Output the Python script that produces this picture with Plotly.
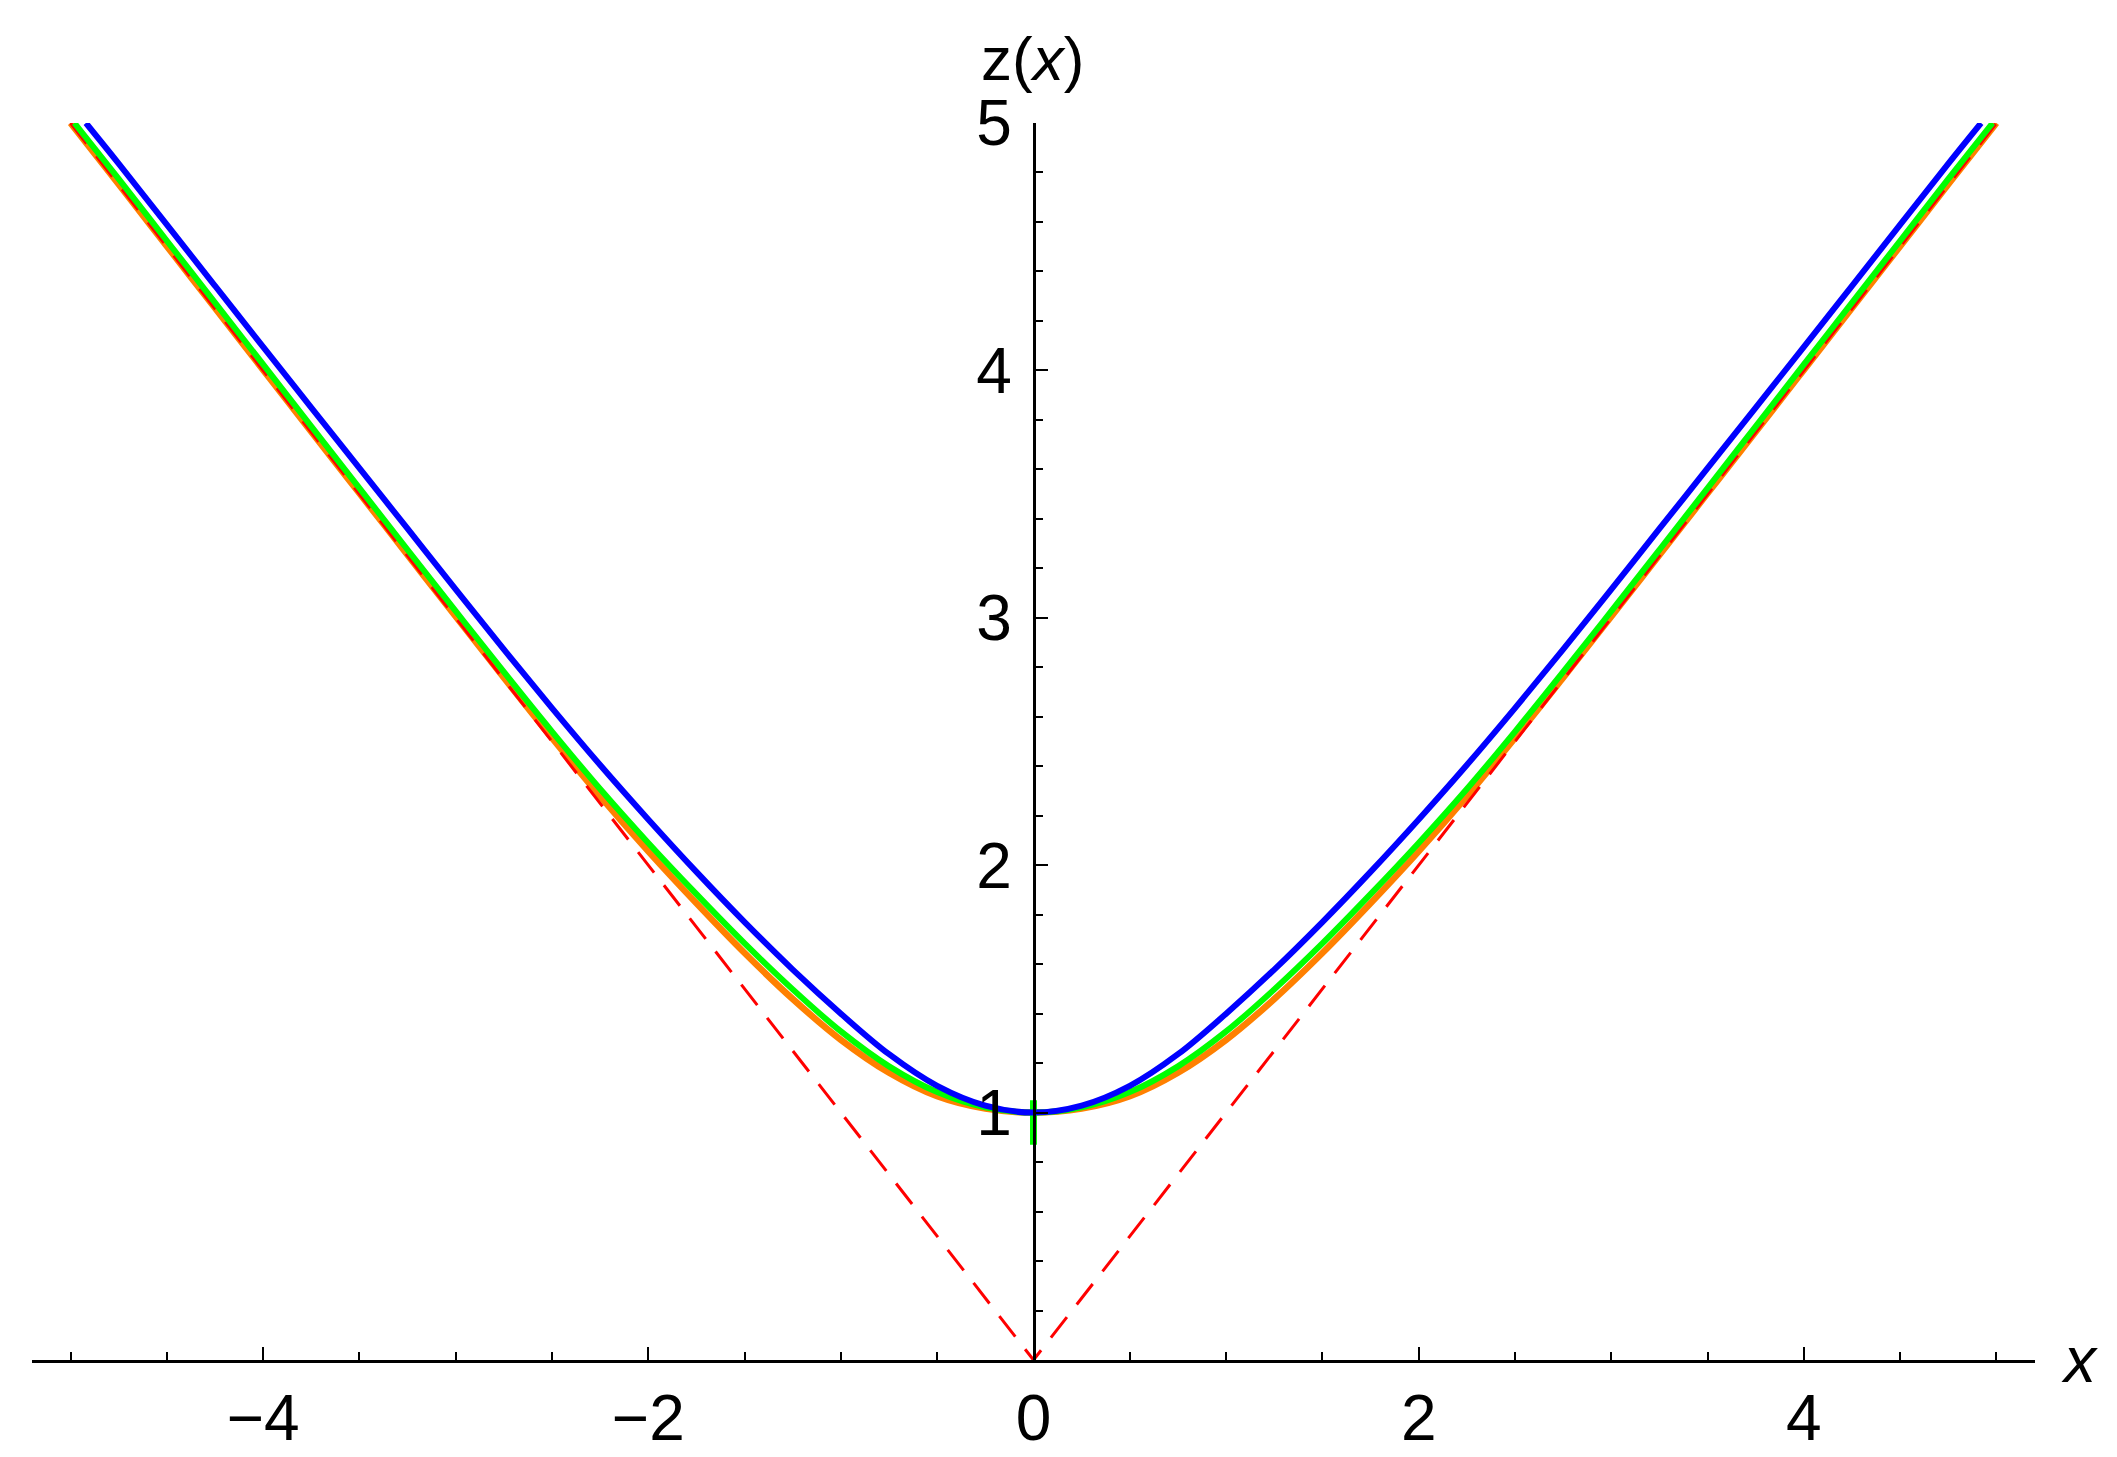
import plotly.graph_objects as go

# values (right half, curves are symmetric about x = 0)
x_grid = [0, 0.25, 0.5, 0.75, 1, 1.25, 1.5, 1.75, 2, 2.25, 2.5, 2.75,
          3, 3.25, 3.5, 3.75, 4, 4.25, 4.5, 4.75]

x_blue = x_grid + [4.92]
z_blue = [1, 1.028, 1.108, 1.236, 1.400, 1.578, 1.770, 1.973, 2.185, 2.405, 2.635, 2.872,
          3.115, 3.36, 3.605, 3.85, 4.095, 4.342, 4.589, 4.836, 5.0]

x_green = x_grid + [4.98]
z_green = [1, 1.021, 1.083, 1.187, 1.328, 1.498, 1.684, 1.883, 2.09, 2.308, 2.54, 2.781,
           3.027, 3.275, 3.524, 3.774, 4.024, 4.274, 4.524, 4.774, 5.0]

x_orange = x_grid + [5.0]
z_orange = [1, 1.016, 1.066, 1.161, 1.294, 1.459, 1.645, 1.846, 2.056, 2.278, 2.514, 2.758,
            3.005, 3.254, 3.503, 3.752, 4.002, 4.252, 4.502, 4.752, 5.0]

x_abs = [-5, 0, 5]
z_abs = [5, 0, 5]

# short green bar at the minimum
x_bar = [0, 0]
z_bar = [0.87, 1.05]

x_ticks = [-4, -2, 0, 2, 4]
y_ticks = [1, 2, 3, 4, 5]


def mirror(xs, zs):
    xx = [-v for v in xs[::-1]] + xs[1:]
    zz = zs[::-1] + zs[1:]
    return xx, zz


fig = go.Figure()

xo, zo = mirror(x_orange, z_orange)
fig.add_trace(go.Scatter(x=xo, y=zo, mode='lines', line_shape='spline',
                         line=dict(color='#FF8000', width=6.5)))

fig.add_trace(go.Scatter(x=x_abs, y=z_abs, mode='lines',
                         line=dict(color='#FF0000', width=3, dash='26px,16px')))

xg, zg = mirror(x_green, z_green)
fig.add_trace(go.Scatter(x=xg, y=zg, mode='lines', line_shape='spline',
                         line=dict(color='#00FF00', width=6)))

fig.add_trace(go.Scatter(x=x_bar, y=z_bar, mode='lines',
                         line=dict(color='#00FF00', width=7)))

xb, zb = mirror(x_blue, z_blue)
fig.add_trace(go.Scatter(x=xb, y=zb, mode='lines', line_shape='spline',
                         line=dict(color='#0000FF', width=6)))

font_family = 'Liberation Sans, Arial, sans-serif'
tick_font = dict(family=font_family, size=64, color='black')

fig.update_layout(
    width=2117, height=1457,
    margin=dict(l=24, r=90, t=115, b=105),
    paper_bgcolor='white', plot_bgcolor='white',
    showlegend=False,
    font=tick_font,
    xaxis=dict(
        range=[-5.2, 5.2], showgrid=False, zeroline=False,
        showline=True, linecolor='black', linewidth=2.5,
        tickvals=x_ticks, ticks='inside', ticklen=13, tickwidth=2, tickcolor='black',
        minor=dict(dtick=0.5, tick0=0, ticks='inside', ticklen=8, tickwidth=2, tickcolor='black'),
        tickfont=tick_font,
    ),
    yaxis=dict(
        range=[0, 5], showgrid=False, zeroline=False,
        anchor='free', position=0.5,
        showline=True, linecolor='black', linewidth=2.5,
        tickvals=y_ticks, ticks='inside', ticklen=13, tickwidth=2, tickcolor='black',
        minor=dict(dtick=0.2, tick0=0, ticks='inside', ticklen=8, tickwidth=2, tickcolor='black'),
        tickfont=tick_font, ticklabelstandoff=8,
    ),
    annotations=[
        dict(text='z(<i>x</i>)', x=0.4995, y=1.052, xref='paper', yref='paper',
             showarrow=False, xanchor='center', yanchor='middle',
             font=dict(family=font_family, size=62, color='black')),
        dict(text='<i>x</i>', x=1.022, y=0, xref='paper', yref='paper',
             showarrow=False, xanchor='center', yanchor='middle',
             font=dict(family=font_family, size=64, color='black')),
    ],
)

fig.write_html("out.html")
